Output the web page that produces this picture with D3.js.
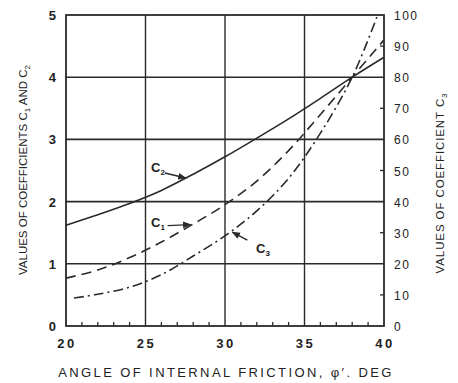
<!DOCTYPE html>
<html>
<head>
<meta charset="utf-8">
<script src="https://cdn.jsdelivr.net/npm/d3@7"></script>
<style>
  body { margin: 0; background: #fff; }
  text { font-family: "Liberation Sans", Arial, sans-serif; fill: #222; }
</style>
</head>
<body>
<svg id="chart" width="458" height="383"></svg>
<script>
// values
const phi = [20, 22, 24, 26, 28, 30, 32, 34, 36, 38, 40];
const c2 = [1.62, 1.79, 1.97, 2.18, 2.44, 2.72, 3.02, 3.33, 3.66, 4.0, 4.32];
const c1 = [0.77, 0.9, 1.1, 1.35, 1.64, 1.95, 2.33, 2.82, 3.4, 4.0, 4.6];
const phiC3 = [20.5, 22, 24, 26, 28, 30, 32, 34, 36, 38, 39.6];
const c3 = [9, 10.2, 12.5, 16.5, 22.5, 29, 37, 47.5, 62, 80, 100];

const xTicks = [20, 25, 30, 35, 40];
const leftTicks = [0, 1, 2, 3, 4, 5];
const rightTicks = [0, 10, 20, 30, 40, 50, 60, 70, 80, 90, 100];

const svg = d3.select("#chart");
const pLeft = 66, pRight = 384, pTop = 15, pBottom = 326;

const x = d3.scaleLinear().domain([20, 40]).range([pLeft, pRight]);
const y = d3.scaleLinear().domain([0, 5]).range([pBottom, pTop]);
const y3 = d3.scaleLinear().domain([0, 100]).range([pBottom, pTop]);

const ink = "#2a2a2a";

// grid
svg.append("g")
    .selectAll("line")
    .data([1, 2, 3, 4])
    .join("line")
    .attr("x1", pLeft).attr("x2", pRight)
    .attr("y1", d => y(d)).attr("y2", d => y(d))
    .attr("stroke", ink).attr("stroke-width", 1.6);

svg.append("g")
    .selectAll("line")
    .data([25, 30, 35])
    .join("line")
    .attr("x1", d => x(d)).attr("x2", d => x(d))
    .attr("y1", pTop).attr("y2", pBottom)
    .attr("stroke", ink).attr("stroke-width", 1.4);

// frame
svg.append("rect")
    .attr("x", pLeft).attr("y", pTop)
    .attr("width", pRight - pLeft).attr("height", pBottom - pTop)
    .attr("fill", "none").attr("stroke", ink).attr("stroke-width", 1.8);

// minor ticks on bottom, every degree, pointing up
svg.append("g")
    .selectAll("line")
    .data(d3.range(21, 40).filter(d => d % 5 !== 0))
    .join("line")
    .attr("x1", d => x(d)).attr("x2", d => x(d))
    .attr("y1", pBottom).attr("y2", pBottom - 4)
    .attr("stroke", ink).attr("stroke-width", 1.3);

// right axis short ticks at odd tens
svg.append("g")
    .selectAll("line")
    .data([10, 30, 50, 70, 90])
    .join("line")
    .attr("x1", pRight).attr("x2", pRight - 4)
    .attr("y1", d => y3(d)).attr("y2", d => y3(d))
    .attr("stroke", ink).attr("stroke-width", 1.3);

// tick labels
svg.append("g")
    .selectAll("text")
    .data(leftTicks)
    .join("text")
    .attr("x", 56).attr("y", d => y(d) + 5)
    .attr("text-anchor", "end")
    .attr("font-size", 13).attr("font-weight", "bold")
    .text(d => d);

svg.append("g")
    .selectAll("text")
    .data(xTicks)
    .join("text")
    .attr("x", d => x(d) + 1).attr("y", 348)
    .attr("text-anchor", "middle")
    .attr("font-size", 13).attr("font-weight", "bold")
    .attr("letter-spacing", 2.5)
    .text(d => d);

svg.append("g")
    .selectAll("text")
    .data(rightTicks)
    .join("text")
    .attr("x", 394).attr("y", d => y3(d) + 5)
    .attr("font-size", 12)
    .attr("letter-spacing", 1.5)
    .text(d => d);

// axis titles
svg.append("text")
    .attr("x", 226).attr("y", 377)
    .attr("text-anchor", "middle")
    .attr("font-size", 13)
    .attr("letter-spacing", 2.4)
    .text("ANGLE OF INTERNAL FRICTION, \u03c6\u2032. DEG");

svg.append("text")
    .attr("transform", "translate(27,170) rotate(-90)")
    .attr("text-anchor", "middle")
    .attr("font-size", 11.5)
    .html("VALUES OF COEFFICIENTS C<tspan dy='3' font-size='8'>1</tspan><tspan dy='-3'> AND C</tspan><tspan dy='3' font-size='8'>2</tspan>");

svg.append("text")
    .attr("transform", "translate(444,183) rotate(-90)")
    .attr("text-anchor", "middle")
    .attr("font-size", 11.5)
    .attr("letter-spacing", 0.9)
    .html("VALUES OF COEFFICIENT C<tspan dy='3' font-size='8'>3</tspan>");

// curves
const line = d3.line().curve(d3.curveCatmullRom.alpha(0.5));

svg.append("path")
    .attr("d", line(phi.map((p, i) => [x(p), y(c2[i])])))
    .attr("fill", "none").attr("stroke", ink).attr("stroke-width", 1.6);

svg.append("path")
    .attr("d", line(phi.map((p, i) => [x(p), y(c1[i])])))
    .attr("fill", "none").attr("stroke", ink).attr("stroke-width", 1.6)
    .attr("stroke-dasharray", "10,6");

svg.append("path")
    .attr("d", line(phiC3.map((p, i) => [x(p), y3(c3[i])])))
    .attr("fill", "none").attr("stroke", ink).attr("stroke-width", 1.6)
    .attr("stroke-dasharray", "10,4,2,4");

// curve labels with arrows
svg.append("defs").append("marker")
    .attr("id", "head")
    .attr("viewBox", "0 0 10 10")
    .attr("refX", 9).attr("refY", 5)
    .attr("markerWidth", 6).attr("markerHeight", 6)
    .attr("orient", "auto")
    .append("path").attr("d", "M0,1 L10,5 L0,9 Z").attr("fill", ink);

const notes = [
    { name: "C", sub: "2", tx: 151, ty: 172, at: 27.6, val: 2.38, s: y, dx: -22, dy: -5 },
    { name: "C", sub: "1", tx: 151, ty: 227, at: 27.9, val: 1.63, s: y, dx: -24, dy: 1 },
    { name: "C", sub: "3", tx: 256, ty: 253, at: 30.4, val: 30.5, s: y3, dx: 16, dy: 9 }
];

notes.forEach(n => {
    const px = x(n.at), py = n.s(n.val);
    svg.append("line")
        .attr("x1", px + n.dx).attr("y1", py + n.dy)
        .attr("x2", px - (n.dx > 0 ? -1 : 1)).attr("y2", py + (n.dx > 0 ? 1 : 0))
        .attr("stroke", ink).attr("stroke-width", 1.4)
        .attr("marker-end", "url(#head)");
    svg.append("text")
        .attr("x", n.tx).attr("y", n.ty)
        .attr("font-size", 13).attr("font-weight", "bold")
        .html(`${n.name}<tspan dy="3" font-size="8">${n.sub}</tspan>`);
});
</script>
</body>
</html>
